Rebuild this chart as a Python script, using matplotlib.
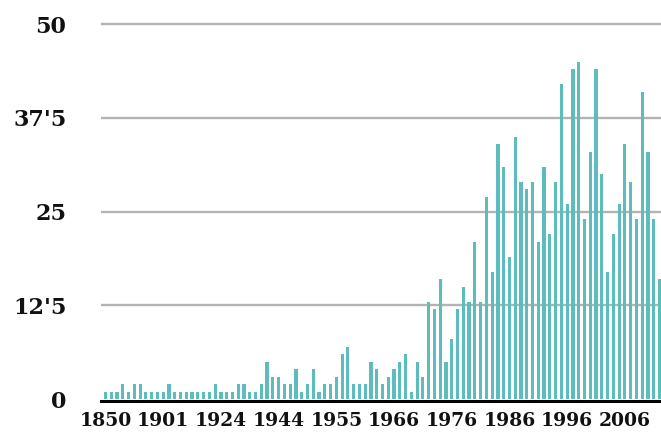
import numpy as np
import matplotlib
matplotlib.use('Agg')
import matplotlib.pyplot as plt

# categories (years) - every tenth one is labelled on the axis
years = [1850, 1856, 1862, 1869, 1874, 1880, 1885, 1889, 1893, 1897,
         1901, 1904, 1906, 1908, 1910, 1912, 1914, 1917, 1919, 1922,
         1924, 1926, 1928, 1930, 1932, 1934, 1936, 1938, 1940, 1942,
         1944, 1945, 1946, 1947, 1948, 1949, 1950, 1951, 1952, 1954,
         1955, 1956, 1957, 1958, 1959, 1960, 1961, 1963, 1964, 1965,
         1966, 1967, 1968, 1969, 1970, 1971, 1972, 1973, 1974, 1975,
         1976, 1977, 1978, 1979, 1980, 1981, 1982, 1983, 1984, 1985,
         1986, 1987, 1988, 1989, 1990, 1991, 1992, 1993, 1994, 1995,
         1996, 1997, 1998, 1999, 2000, 2001, 2002, 2003, 2004, 2005,
         2006, 2007, 2008, 2009, 2010, 2011, 2012]

counts = [1, 1, 1, 2, 1, 2, 2, 1, 1, 1, 1, 2, 1, 1, 1, 1, 1,
          1, 1, 2, 1, 1, 1, 2, 2, 1, 1, 2, 5, 3, 3, 2, 2, 4,
          1, 2, 4, 1, 2, 2, 3, 6, 7, 2, 2, 2, 5, 4, 2, 3,
          4, 5, 6, 1, 5, 3, 13, 12, 16, 5, 8, 12, 15,
          13, 21, 13, 27, 17, 34, 31, 19, 35, 29, 28, 29, 21,
          31, 22, 29, 42, 26, 44, 45, 24, 33, 44, 30, 17, 22, 26,
          34, 29, 24, 41, 33, 24, 16]

y_ticks = [0, 12.5, 25, 37.5, 50]
y_labels = ['0', "12'5", '25', "37'5", '50']

bar_color = '#5cbdbc'
grid_color = '#b3b3b3'
text_color = '#111111'

fig = plt.figure(figsize=(6.61, 4.40), dpi=100)
ax = fig.add_axes([101 / 661, 41 / 440, 560 / 661, 382.5 / 440])

x = np.arange(len(years))
ax.bar(x, counts, width=0.55, color=bar_color, zorder=2)

ax.set_xlim(-0.78, len(years) - 0.74)
ax.set_ylim(0, 51)

ax.set_yticks(y_ticks)
ax.set_yticklabels(y_labels)
ax.set_xticks(x[::10])
ax.set_xticklabels([str(y) for y in years[::10]])

for t in y_ticks[1:]:
    ax.axhline(t, color=grid_color, linewidth=1.7, zorder=1)

for s in ['top', 'right', 'left']:
    ax.spines[s].set_visible(False)
ax.spines['bottom'].set_linewidth(2.2)
ax.spines['bottom'].set_color('black')
ax.spines['bottom'].set_position(('outward', 1.1))

ax.tick_params(axis='y', length=0, pad=25, colors=text_color)
ax.tick_params(axis='x', length=0, pad=8.5, colors=text_color)
for lab in ax.get_yticklabels():
    lab.set_fontfamily('DejaVu Serif')
    lab.set_fontweight('bold')
    lab.set_fontsize(16)
for lab in ax.get_xticklabels():
    lab.set_fontfamily('DejaVu Serif')
    lab.set_fontweight('bold')
    lab.set_fontsize(13.5)

fig.savefig('out.png', dpi=100)
